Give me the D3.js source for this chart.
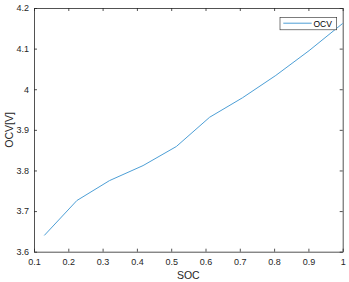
<!DOCTYPE html>
<html><head><meta charset="utf-8">
<script src="https://cdn.jsdelivr.net/npm/d3@7"></script>
<style>body{margin:0;background:#fff;} svg{display:block;font-family:"Liberation Sans",Arial,sans-serif;}</style>
</head><body><svg id="c" width="349" height="282"></svg>
<script>
const soc = [0.13, 0.225, 0.32, 0.418, 0.515, 0.612, 0.708, 0.805, 0.902, 1.0];
const ocv = [3.64, 3.726, 3.775, 3.812, 3.859, 3.931, 3.979, 4.034, 4.095, 4.162];
const xTicks = [0.1,0.2,0.3,0.4,0.5,0.6,0.7,0.8,0.9,1];
const yTicks = [3.6,3.7,3.8,3.9,4,4.1,4.2];
const seriesName = "OCV";

const svg = d3.select("#c");
const L=34, R=342.7, T=8, B=251.7;
const x = d3.scaleLinear().domain([0.1,1]).range([L,R]);
const y = d3.scaleLinear().domain([3.6,4.2]).range([B,T]);
const ax = "#262626";

const fmt = d => String(d);
const gx = svg.append("g").attr("transform",`translate(0,${B})`)
  .call(d3.axisBottom(x).tickValues(xTicks).tickSizeInner(-3).tickSizeOuter(0).tickPadding(7).tickFormat(fmt));
const gxt = svg.append("g").attr("transform",`translate(0,${T})`)
  .call(d3.axisTop(x).tickValues(xTicks).tickSizeInner(-3).tickSizeOuter(0).tickFormat(""));
const gy = svg.append("g").attr("transform",`translate(${L},0)`)
  .call(d3.axisLeft(y).tickValues(yTicks).tickSizeInner(-3).tickSizeOuter(0).tickPadding(5).tickFormat(fmt));
const gyr = svg.append("g").attr("transform",`translate(${R},0)`)
  .call(d3.axisRight(y).tickValues(yTicks).tickSizeInner(-3).tickSizeOuter(0).tickFormat(""));
[gx,gxt,gy,gyr].forEach(g=>{
  g.selectAll("path,line").attr("stroke",ax).attr("stroke-width",0.8);
  g.selectAll("text").attr("fill",ax).style("font-size","9px").style("font-family","'Liberation Sans',Arial,sans-serif");
});

svg.append("path").datum(soc.map((s,i)=>[s,ocv[i]]))
  .attr("fill","none").attr("stroke","#4d9fd6").attr("stroke-width",1)
  .attr("d", d3.line().x(d=>x(d[0])).y(d=>y(d[1])));

svg.append("text").attr("x",(L+R)/2).attr("y",279).attr("text-anchor","middle")
  .attr("fill",ax).style("font-size","10.5px").text("SOC");
svg.append("text").attr("transform",`translate(12.5,${(T+B)/2}) rotate(-90)`).attr("text-anchor","middle")
  .attr("fill",ax).style("font-size","10.5px").text("OCV[V]");

const lg = svg.append("g");
lg.append("rect").attr("x",280).attr("y",17.3).attr("width",56.7).attr("height",12.5)
  .attr("fill","#fff").attr("stroke",ax).attr("stroke-width",0.6);
lg.append("line").attr("x1",283.3).attr("x2",311.7).attr("y1",23.2).attr("y2",23.2)
  .attr("stroke","#4d9fd6").attr("stroke-width",1);
lg.append("text").attr("x",313.5).attr("y",26.6).attr("fill","#000").style("font-size","8.5px").text(seriesName);
</script></body></html>
